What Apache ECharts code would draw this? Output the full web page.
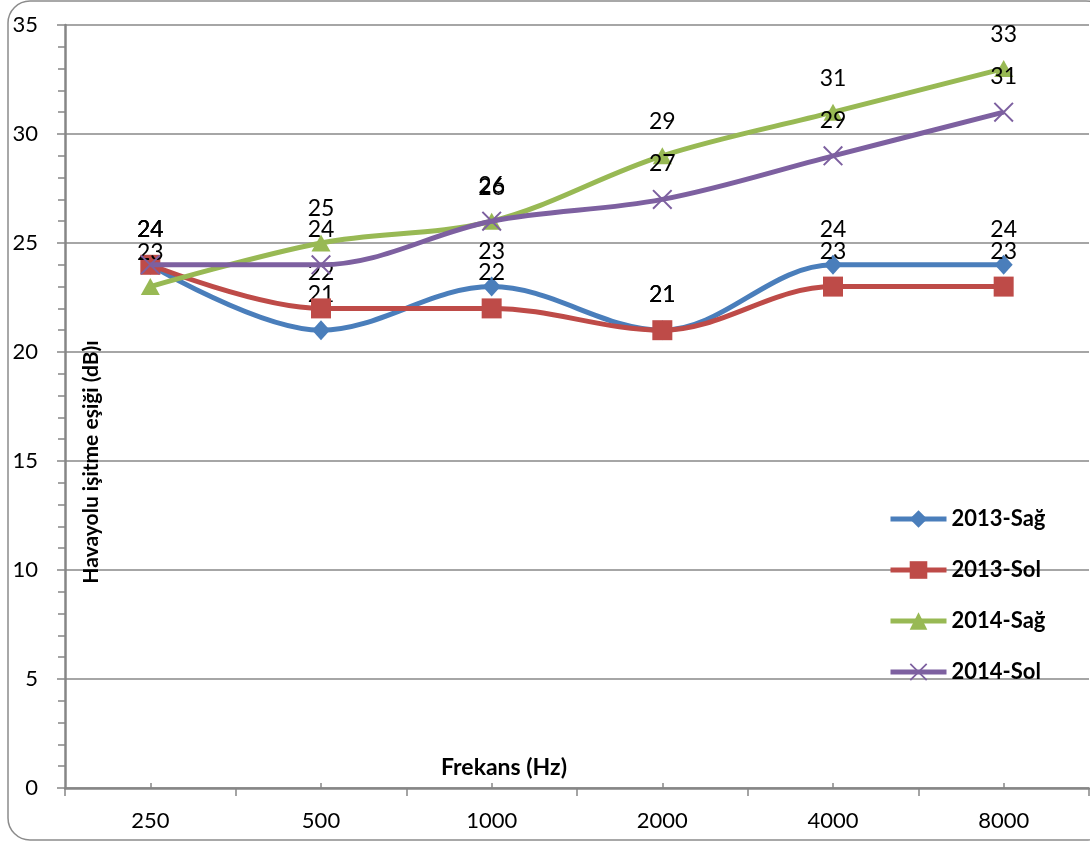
<!DOCTYPE html>
<html><head><meta charset="utf-8">
<script src="https://cdn.jsdelivr.net/npm/echarts@6/dist/echarts.min.js"></script>
<style>html,body{margin:0;padding:0;background:#fff}#c{width:1090px;height:845px}</style>
</head><body><div id="c"></div>
<script>
const categories = ['250','500','1000','2000','4000','8000'];
const sag2013 = [24, 21, 23, 21, 24, 24];
const sol2013 = [24, 22, 22, 21, 23, 23];
const sag2014 = [23, 25, 26, 29, 31, 33];
const sol2014 = [24, 24, 26, 27, 29, 31];
const seriesNames = ['2013-Sağ','2013-Sol','2014-Sağ','2014-Sol'];
const yTicks = {min: 0, max: 35, interval: 5};

const FONT = 'Lato, "Open Sans", sans-serif';
const crossPath = 'path://M0,1.4 L1.4,0 L10,8.6 L18.6,0 L20,1.4 L11.4,10 L20,18.6 L18.6,20 L10,11.4 L1.4,20 L0,18.6 L8.6,10 Z';
const colors = ['#4a7ebb','#be4b48','#98b954','#7d60a0'];
const symbols = ['diamond','rect','triangle',crossPath];
const sizes = [[18,20],[20,20],[19,17],[20,20]];
const datas = [sag2013, sol2013, sag2014, sol2014];

const chart = echarts.init(document.getElementById('c'), null, {renderer:'canvas'});
const axisGray = '#868686';
chart.setOption({
  animation: false,
  color: colors,
  grid: {left: 65, right: 1, top: 25, bottom: 57},
  graphic: [
    {type:'rect', shape:{x:8, y:1, width:1100, height:839, r:22}, style:{fill:'none', stroke:'#8c8c8c', lineWidth:1.5}, z:-10, silent:true},
    {type:'text', x:91, y:462, rotation:Math.PI/2, style:{text:'Havayolu işitme eşiği (dB)ı', font:'bold 21px '+FONT, fill:'#000', align:'center', verticalAlign:'middle'}, z:5},
    {type:'text', x:504, y:768, style:{text:'Frekans (Hz)', font:'bold 23px '+FONT, fill:'#000', align:'center', verticalAlign:'middle'}, z:5}
  ],
  legend: {
    orient:'vertical', left: 883, top: 503, itemWidth: 56, itemHeight: 22, itemGap: 29,
    textStyle:{fontFamily:FONT, fontWeight:'bold', fontSize:22, color:'#000'},
    lineStyle:{width:5},
    data: seriesNames
  },
  xAxis: [{
    type:'category', data: categories, boundaryGap:true,
    axisLine:{lineStyle:{color:axisGray, width:2.5}},
    axisTick:{show:true, length:8, lineStyle:{color:axisGray, width:1.5}},
    axisLabel:{fontFamily:FONT, fontSize:22, color:'#000', margin:22}
  },{
    type:'category', data: categories, boundaryGap:true, position:'bottom',
    axisLine:{show:false}, axisLabel:{show:false},
    axisTick:{show:true, inside:true, alignWithLabel:true, length:5, lineStyle:{color:axisGray, width:1.5}}
  }],
  yAxis: [{
    type:'value', min:yTicks.min, max:yTicks.max, interval:yTicks.interval,
    axisLine:{show:true, lineStyle:{color:axisGray, width:2.5}},
    axisTick:{show:true, length:8, lineStyle:{color:axisGray, width:1.5}},
    minorTick:{show:true, splitNumber:5, length:7, lineStyle:{color:axisGray, width:1.5}},
    splitLine:{show:true, lineStyle:{color:'#898989', width:1.5}},
    axisLabel:{fontFamily:FONT, fontSize:22, color:'#000', margin:27}
  },{
    type:'value', min:yTicks.min, max:yTicks.max, interval:yTicks.interval, position:'left',
    axisLine:{show:false}, axisLabel:{show:false}, splitLine:{show:false},
    axisTick:{show:false},
    minorTick:{show:true, splitNumber:5, length:5, lineStyle:{color:axisGray, width:1.5}}
  }],
  series: datas.map((d,i)=>({
    name: seriesNames[i], type:'line', data:d, smooth:0.35,
    xAxisIndex:0, yAxisIndex:0,
    symbol: symbols[i], symbolSize: sizes[i],
    lineStyle:{width:5, color:colors[i]},
    itemStyle:{color:colors[i]},
    label:{show:true, position:'top', distance:14, fontFamily:FONT, fontSize:23, color:'#000'},
    z: 2+i
  }))
});
</script></body></html>
